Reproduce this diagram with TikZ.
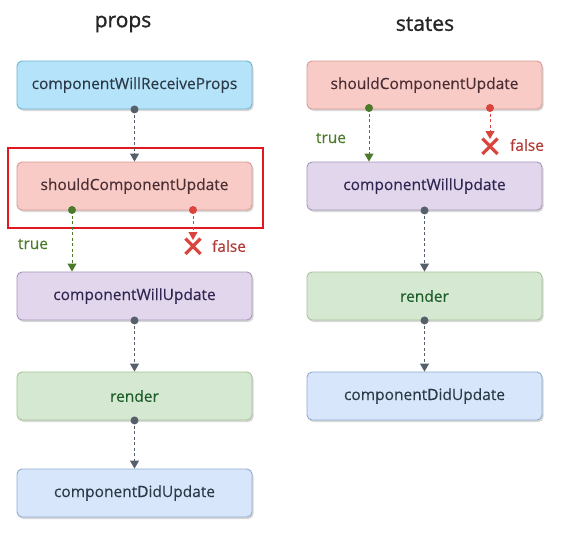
\documentclass[tikz,border=0pt]{standalone}
\usepackage{fontspec}
\setmainfont{Open Sans}
\newfontfamily\boxfont[FakeBold=0.3]{Open Sans}
\newfontfamily\titlefont[FakeBold=1.2]{Open Sans}
\usetikzlibrary{shadows,arrows.meta}
\definecolor{bluefill}{HTML}{B5E3FA}
\definecolor{blueline}{HTML}{6FB3CF}
\definecolor{pinkfill}{HTML}{F9CBC6}
\definecolor{pinkline}{HTML}{D99A92}
\definecolor{purpfill}{HTML}{E2D6EC}
\definecolor{purpline}{HTML}{A696BC}
\definecolor{grnfill}{HTML}{D5E8D1}
\definecolor{grnline}{HTML}{A3C493}
\definecolor{lbfill}{HTML}{D7E6FA}
\definecolor{lbline}{HTML}{8FABD2}
\definecolor{txtdark}{HTML}{2C3A47}
\definecolor{txtpink}{HTML}{4A2E33}
\definecolor{txtpurp}{HTML}{2E2650}
\definecolor{txtgreen}{HTML}{1E5E2A}
\definecolor{arrgray}{HTML}{56606B}
\definecolor{truegreen}{HTML}{4B7A2B}
\definecolor{falsered}{HTML}{B23A36}
\definecolor{xred}{HTML}{D9453C}
\definecolor{hilite}{HTML}{E3171E}
\tikzset{
  box/.style={draw, line width=0.9pt, rounded corners=5pt, minimum width=235pt, minimum height=48pt,
    font=\boxfont\fontsize{15.5}{17}\selectfont, text=txtdark,
    drop shadow={shadow xshift=1.5pt, shadow yshift=-2pt, opacity=0.25, fill=black!60}},
  bluebox/.style={box, fill=bluefill, draw=blueline, text=txtdark},
  pinkbox/.style={box, fill=pinkfill, draw=pinkline, text=txtpink},
  purpbox/.style={box, fill=purpfill, draw=purpline, text=txtpurp},
  grnbox/.style={box, fill=grnfill, draw=grnline, text=txtgreen},
  lbbox/.style={box, fill=lbfill, draw=lbline, text=txtdark},
  flow/.style={draw=#1, line width=0.9pt, dash pattern=on 3pt off 2.5pt, -{Triangle[length=8pt,width=9pt,fill=#1]}},
  flow/.default=arrgray,
  dot/.style={fill=#1, circle, inner sep=0pt, minimum size=8pt},
  lbl/.style={font=\boxfont\fontsize{15.5}{17}\selectfont, text=#1},
  title/.style={font=\titlefont\fontsize{21}{24}\selectfont, text=black!85},
  crossx/.style={draw=xred, line width=3.2pt}
}
\begin{document}
\begin{tikzpicture}[x=1pt,y=-1pt]
\useasboundingbox (0,0) rectangle (573,541);
\fill[white] (0,0) rectangle (573,541);
% titles
\node[title] (tp) at (123,24) {props};
\node[title] (ts) at (425,24) {states};
% left column
\node[bluebox] (l1) at (134.5,85) {componentWillReceiveProps};
\node[pinkbox] (l2) at (134.5,186) {shouldComponentUpdate};
\node[purpbox] (l3) at (134.5,296) {componentWillUpdate};
\node[grnbox] (l4) at (134.5,396) {render};
\node[lbbox] (l5) at (134.5,493) {componentDidUpdate};
% highlight
\node[draw=hilite, line width=1.3pt, minimum width=255pt, minimum height=80pt, inner sep=0pt] (hl) at (135.5,188) {};
% right column
\node[pinkbox] (r1) at (424.5,85) {shouldComponentUpdate};
\node[purpbox] (r2) at (424.5,186) {componentWillUpdate};
\node[grnbox] (r3) at (424.5,296) {render};
\node[lbbox] (r4) at (424.5,396) {componentDidUpdate};
% left arrows
\draw[flow] (l1.south) -- (l2.north);
\node[dot=arrgray] (d1) at (l1.south) {};
\coordinate (lt) at (72,210);
\coordinate (lf) at (193,210);
\coordinate (lfe) at (193,240);
\draw[flow=truegreen] (lt) -- (lt |- l3.north);
\node[dot=truegreen] (d2) at (lt) {};
\draw[flow=xred] (lf) -- (lfe);
\node[dot=xred] (d3) at (lf) {};
\draw[crossx] (185.5,238.5) -- (200.5,254) (200.5,238.5) -- (185.5,254);
\node[lbl=truegreen] (tl) at (33,244) {true};
\node[lbl=falsered] (fl) at (229,246) {false};
\draw[flow] (l3.south) -- (l4.north);
\node[dot=arrgray] (d4) at (l3.south) {};
\draw[flow] (l4.south) -- (l5.north);
\node[dot=arrgray] (d5) at (l4.south) {};
% right arrows
\coordinate (rt) at (369,108);
\coordinate (rf) at (490,108);
\coordinate (rfe) at (490,139);
\draw[flow=truegreen] (rt) -- (rt |- r2.north);
\node[dot=truegreen] (d6) at (rt) {};
\draw[flow=xred] (rf) -- (rfe);
\node[dot=xred] (d7) at (rf) {};
\draw[crossx] (482.5,138.5) -- (497.5,154) (497.5,138.5) -- (482.5,154);
\node[lbl=truegreen] (tr) at (331,138) {true};
\node[lbl=falsered] (fr) at (527,145) {false};
\draw[flow] (r2.south) -- (r3.north);
\node[dot=arrgray] (d8) at (r2.south) {};
\draw[flow] (r3.south) -- (r4.north);
\node[dot=arrgray] (d9) at (r3.south) {};
\end{tikzpicture}
\end{document}
